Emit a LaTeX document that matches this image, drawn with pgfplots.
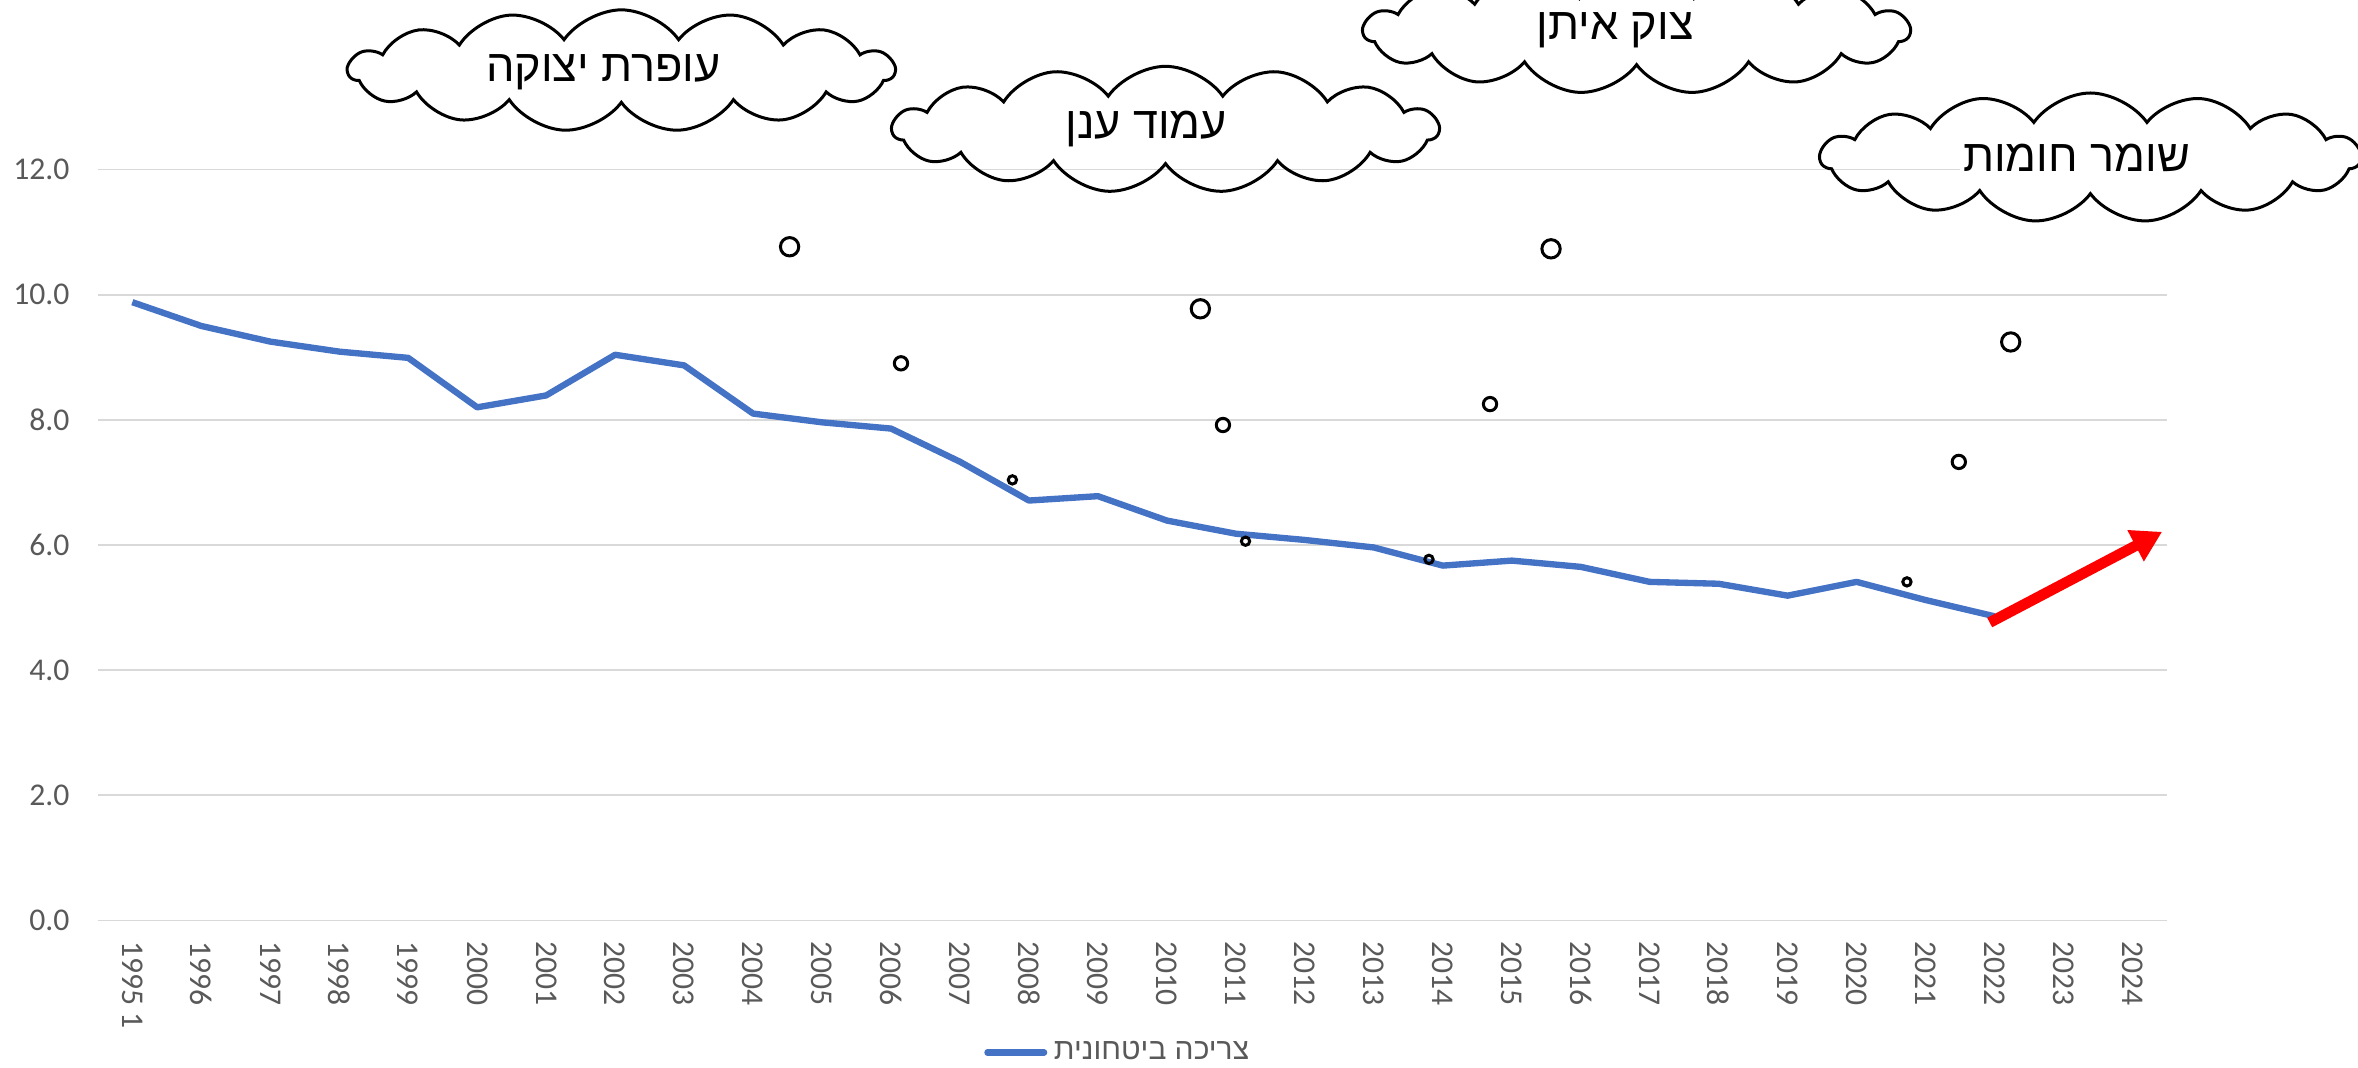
\documentclass[border=0pt]{standalone}
\usepackage{fontspec}
\setmainfont{Carlito}
\newfontfamily\hebfont[Script=Hebrew]{Liberation Sans}
\usepackage{pgfplots}
\pgfplotsset{compat=1.18}
\usetikzlibrary{shapes.callouts,shapes.symbols,arrows.meta}
\TeXXeTstate=1
\definecolor{lineblue}{HTML}{4472C4}
\definecolor{tickgray}{HTML}{595959}
\definecolor{gridgray}{HTML}{D9D9D9}
\pgfplotstableread{
x y
0 9.88
1 9.50
2 9.25
3 9.09
4 8.99
5 8.20
6 8.39
7 9.04
8 8.87
9 8.10
10 7.96
11 7.86
12 7.33
13 6.71
14 6.78
15 6.39
16 6.18
17 6.08
18 5.96
19 5.67
20 5.75
21 5.65
22 5.41
23 5.38
24 5.19
25 5.41
26 5.12
27 4.86
}\datatable
\tikzset{mycloud/.style={cloud callout, draw=black, line width=0.9pt, cloud puffs=15, cloud puff arc=110, cloud ignores aspect, inner sep=0pt, callout pointer segments=3, callout pointer start size=7pt, callout pointer end size=2.5pt}}
\begin{document}
\begin{tikzpicture}
\begin{axis}[
  x=20.69pt, y=18.77pt,
  xmin=-0.5, xmax=29.5, ymin=0, ymax=12,
  clip=false,
  axis line style={draw=none},
  ymajorgrids, grid style={gridgray, line width=0.5pt},
  major tick length=0pt,
  xtick={0,...,29},
  xticklabels={1995 1,1996,1997,1998,1999,2000,2001,2002,2003,2004,2005,2006,2007,2008,2009,2010,2011,2012,2013,2014,2015,2016,2017,2018,2019,2020,2021,2022,2023,2024},
  xticklabel style={rotate=-90, anchor=west, font=\fontsize{9.5}{11}\selectfont, text=tickgray, xshift=2.7pt},
  ytick={0,2,...,12},
  yticklabel style={font=\fontsize{9.5}{11}\selectfont, text=tickgray, xshift=-5pt, /pgf/number format/fixed, /pgf/number format/fixed zerofill, /pgf/number format/precision=1},
  /pgf/number format/assume math mode=true,
  legend style={at={(axis description cs:0.494,-0.176)}, anchor=center, draw=none, fill=none, font=\fontsize{9}{11}\selectfont, text=tickgray, inner sep=1pt},
  legend image code/.code={\draw[#1, line cap=round] (0pt,0pt) -- (17pt,0pt);},
]
\addplot[lineblue, line width=1.9pt, line join=round] table[x=x, y=y] {\datatable};
\addlegendentry{\hebfont\beginR צריכה ביטחונית\endR}
\addplot[red, line width=3.2pt, -{Triangle[length=9pt, width=10pt]}, forget plot] coordinates {(26.93,4.76) (29.43,6.21)};

\node[mycloud, minimum width=163.8pt, minimum height=36.5pt, callout absolute pointer={(axis cs:12.76,7.04)}] at (axis cs:7.09,13.58) {};
\node[mycloud, minimum width=163.8pt, minimum height=37.9pt, callout absolute pointer={(axis cs:16.14,6.06)}] at (axis cs:14.98,12.64) {};
\node[mycloud, minimum width=163.8pt, minimum height=37.5pt, callout absolute pointer={(axis cs:18.80,5.77)}] at (axis cs:21.81,14.21) {};
\node[mycloud, minimum width=162pt, minimum height=38.8pt, callout absolute pointer={(axis cs:25.73,5.41)}] at (axis cs:28.39,12.19) {};

\node[font=\hebfont\fontsize{13.5}{16}\selectfont] at (axis cs:6.83,13.56) {\beginR עופרת יצוקה\endR};
\node[font=\hebfont\fontsize{13.5}{16}\selectfont] at (axis cs:14.70,12.64) {\beginR עמוד ענן\endR};
\node[font=\hebfont\fontsize{13.5}{16}\selectfont] at (axis cs:21.50,14.23) {\beginR צוק איתן\endR};
\node[font=\hebfont\fontsize{13.5}{16}\selectfont, fill=white, inner sep=1pt] at (axis cs:28.19,12.19) {\beginR שומר חומות\endR};

\coordinate (bbll) at (axis cs:-1.919,-2.356);
\coordinate (bbur) at (axis cs:32.27,14.71);
\end{axis}
\pgfresetboundingbox
\path[use as bounding box] (bbll) rectangle (bbur);
\end{tikzpicture}
\end{document}
